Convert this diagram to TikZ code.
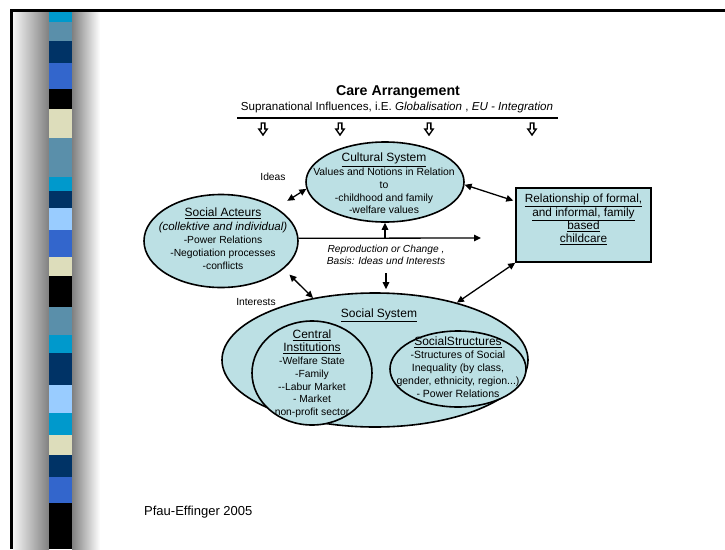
\documentclass[tikz,border=0pt]{standalone}
\usepackage{fontspec}
\setmainfont{Liberation Sans}
\usetikzlibrary{shapes.geometric,arrows.meta}
\definecolor{cellfill}{HTML}{BCE0E4}
\definecolor{stCyan}{HTML}{0099CC}
\definecolor{stSteel}{HTML}{5A8FAA}
\definecolor{stNavy}{HTML}{003366}
\definecolor{stRoyal}{HTML}{3366CC}
\definecolor{stBeige}{HTML}{DDDDBB}
\definecolor{stLight}{HTML}{99CCFF}
\newcommand\headtxt[1]{{\fontsize{12}{13}\selectfont\underline{#1}}}
\begin{document}
\begin{tikzpicture}[x=1pt,y=-1pt,
  blob/.style={ellipse, draw, line width=1.6pt, fill=cellfill, inner sep=0pt},
  tip/.tip={Triangle[length=7pt,width=6.5pt]},
  arr/.style={line width=1.3pt, -tip},
  dbl/.style={line width=1.3pt, tip-tip},
  body/.style={align=center, inner sep=0pt, font=\fontsize{10.3}{13}\selectfont},
  note/.style={inner sep=0pt, font=\fontsize{10.3}{12}\selectfont}]

% page frame
\useasboundingbox (0,0) rectangle (725,549);
\fill[white] (0,0) rectangle (725,549);

% decorative side bar
\shade[left color=white!96!black, right color=black!50] (13,12) rectangle (49,549);
\shade[left color=black!50, right color=white] (72,12) rectangle (100,549);
\foreach \ya/\yb/\col in {12/22/stCyan, 22/41/stSteel, 41/63/stNavy, 63/89/stRoyal,
  89/109/black, 109/138/stBeige, 138/177/stSteel, 177/191/stCyan, 191/208/stNavy,
  208/230/stLight, 230/257/stRoyal, 257/276/stBeige, 276/307/black, 307/335/stSteel,
  335/353/stCyan, 353/385/stNavy, 385/413/stLight, 413/435/stCyan, 435/455/stBeige,
  455/477/stNavy, 477/503/stRoyal, 503/549/black}
  \fill[\col] (49,\ya) rectangle (72,\yb);
\fill[black] (10,9) rectangle (725,12);
\fill[black] (10,9) rectangle (13,549);

% heading
\node[font=\fontsize{14.2}{16}\selectfont\bfseries, inner sep=0pt] (title) at (398,92) {Care Arrangement};
\node[font=\fontsize{11.6}{13}\selectfont, inner sep=0pt] (sub) at (397,107)
  {Supranational Influences, i.E. \textit{Globalisation} , \textit{EU - Integration}};
\draw[line width=1.4pt] (237,118) -- (558,118);
\foreach \ax in {263,340,429,532}
  \draw[line width=1.4pt, fill=white, line join=miter]
    (\ax-1.8,123) -- (\ax+1.8,123) -- (\ax+1.8,129) -- (\ax+4.2,129) -- (\ax,135)
    -- (\ax-4.2,129) -- (\ax-1.8,129) -- cycle;

% shapes
\node[blob, minimum width=158pt, minimum height=80pt] (cult) at (385,182) {};
\node[blob, minimum width=154pt, minimum height=93pt] (act) at (221,241) {};
\node[draw, line width=1.6pt, fill=cellfill, minimum width=135pt, minimum height=74pt, inner sep=0pt] (care) at (583.5,225) {};
\node[blob, minimum width=306pt, minimum height=134pt] (soc) at (375,360) {};
\node[blob, minimum width=120pt, minimum height=104pt] (inst) at (312,373) {};
\node[blob, minimum width=136pt, minimum height=76pt] (struct) at (458,369) {};

% texts
\node[body, font=\fontsize{10.4}{12.6}\selectfont] (culttxt) at (384,183.5)
  {\headtxt{Cultural System}\\[1.4pt] Values and Notions in Relation\\ to\\ -childhood and family\\ -welfare values};
\node[body] (acttxt) at (223,238.5)
  {\headtxt{Social Acteurs}\\[1pt] {\fontsize{11.5}{13}\selectfont\itshape (collektive and individual)}\\ -Power Relations\\ -Negotiation processes\\ -conflicts};
\node[body, font=\fontsize{11.8}{13.3}\selectfont] (caretxt) at (583.5,219.5)
  {\underline{Relationship of formal,}\\ \underline{and informal, family}\\ \underline{based}\\ \underline{childcare}};
\node[body] (soctxt) at (379,315) {\headtxt{Social System}};
\node[body, font=\fontsize{10.3}{12.8}\selectfont] (insttxt) at (312,374)
  {\headtxt{Central}\\ \headtxt{Institutions}\\ -Welfare State\\ -Family\\ -{}-Labur Market\\ - Market\\ non-profit sector};
\node[body, font=\fontsize{10.5}{13}\selectfont] (structtxt) at (458,367.5)
  {\headtxt{SocialStructures}\\ -Structures of Social\\ Inequality (by class,\\ gender, ethnicity, region...)\\ - Power Relations};
\node[body, font=\fontsize{10.2}{12}\selectfont\itshape] (rep) at (386,254.5)
  {Reproduction or Change ,\\ Basis: Ideas und Interests};
\node[note] (ideas) at (273,177) {Ideas};
\node[note] (interests) at (256,302) {Interests};
\node[inner sep=0pt, anchor=west, font=\fontsize{13}{15}\selectfont] (cite) at (144,512) {Pfau-Effinger 2005};

% connectors
\coordinate (repEnd) at (481,238);
\draw[arr] (act.2) -- (repEnd);
\draw[arr] (cult.south |- repEnd) -- (cult.south);
\draw[arr, shorten >=3pt] ([yshift=-9pt]rep.south) -- (rep.south |- soc.north);
\draw[dbl, shorten <=13pt] (act.31) -- (cult.185);
\draw[dbl, shorten >=2pt] (cult.-2) -- ([yshift=-14pt]care.north west);
\draw[dbl, shorten <=8pt] (act.-24) -- (soc.135);
\draw[dbl] (soc.35) -- (care.south west);
\end{tikzpicture}
\end{document}
